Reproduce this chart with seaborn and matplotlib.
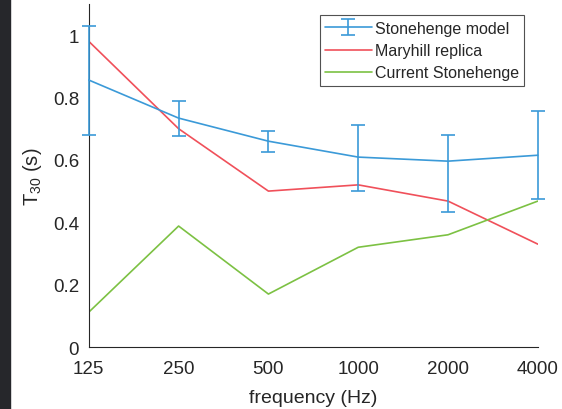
import numpy as np
import pandas as pd
import matplotlib.pyplot as plt
import matplotlib.patches as mpatches
import seaborn as sns

sns.set_style('white')
plt.rcParams['font.family'] = ['Liberation Sans', 'DejaVu Sans']
plt.rcParams['mathtext.default'] = 'regular'

freq = [125, 250, 500, 1000, 2000, 4000]
model = [0.856, 0.734, 0.660, 0.609, 0.596, 0.615]
model_hi = [1.029, 0.788, 0.692, 0.712, 0.679, 0.756]
model_lo = [0.679, 0.676, 0.625, 0.500, 0.433, 0.474]
maryhill = [0.98, 0.70, 0.50, 0.52, 0.468, 0.33]
current = [0.112, 0.388, 0.17, 0.32, 0.36, 0.468]

df = pd.DataFrame({
    'freq': freq * 2,
    'T30': maryhill + current,
    'series': ['Maryhill replica'] * 6 + ['Current Stonehenge'] * 6,
})

blue = '#3b9ad8'
red = '#f0505a'
green = '#7cc143'

fig = plt.figure(figsize=(5.62, 4.10), dpi=100)
fig.patches.append(mpatches.Rectangle((0, 0), 10 / 562, 1, transform=fig.transFigure,
                                      color='#26272b', zorder=-1))
ax = fig.add_axes([0.158, 0.151, 0.799, 0.837])

err = [np.array(model) - np.array(model_lo), np.array(model_hi) - np.array(model)]
eb = ax.errorbar(freq, model, yerr=err, color=blue, lw=1.2, capsize=5, capthick=1.2,
                 clip_on=False, zorder=3)
for art in eb.lines[1] + eb.lines[2]:
    art.set_clip_on(False)
sns.lineplot(data=df, x='freq', y='T30', hue='series', ax=ax,
             palette=[red, green], lw=1.2, legend=False)

h_mary, = ax.plot([], [], color=red, lw=1.2)
h_cur, = ax.plot([], [], color=green, lw=1.2)

ax.set_xscale('log', base=2)
ax.set_xlim(125, 4000)
ax.set_ylim(0, 1.1)
ax.set_xticks(freq)
ax.set_xticklabels([str(f) for f in freq])
ax.minorticks_off()
ax.set_yticks([0, 0.2, 0.4, 0.6, 0.8, 1])
ax.set_yticklabels(['0', '0.2', '0.4', '0.6', '0.8', '1'])
ax.tick_params(direction='in', length=4, labelsize=13.5, colors='#262626', width=0.8)
ax.tick_params(axis='x', pad=9)
ax.tick_params(axis='y', pad=7)
for s in ['top', 'right']:
    ax.spines[s].set_visible(False)
for s in ['left', 'bottom']:
    ax.spines[s].set_color('#262626')
    ax.spines[s].set_linewidth(0.8)

ax.set_xlabel('frequency (Hz)', fontsize=14, color='#262626', labelpad=9)
ax.set_ylabel('T$_{30}$ (s)', fontsize=14.5, color='#262626', labelpad=6)

leg = ax.legend([eb, h_mary, h_cur],
                ['Stonehenge model', 'Maryhill replica', 'Current Stonehenge'],
                loc='upper right', bbox_to_anchor=(0.988, 0.99), fontsize=11.5,
                frameon=True, fancybox=False, edgecolor='#262626', borderpad=0.35,
                labelspacing=0.45, handlelength=2.9, handletextpad=0.2)
leg.get_frame().set_linewidth(0.8)

fig.savefig('out.png', dpi=100)
